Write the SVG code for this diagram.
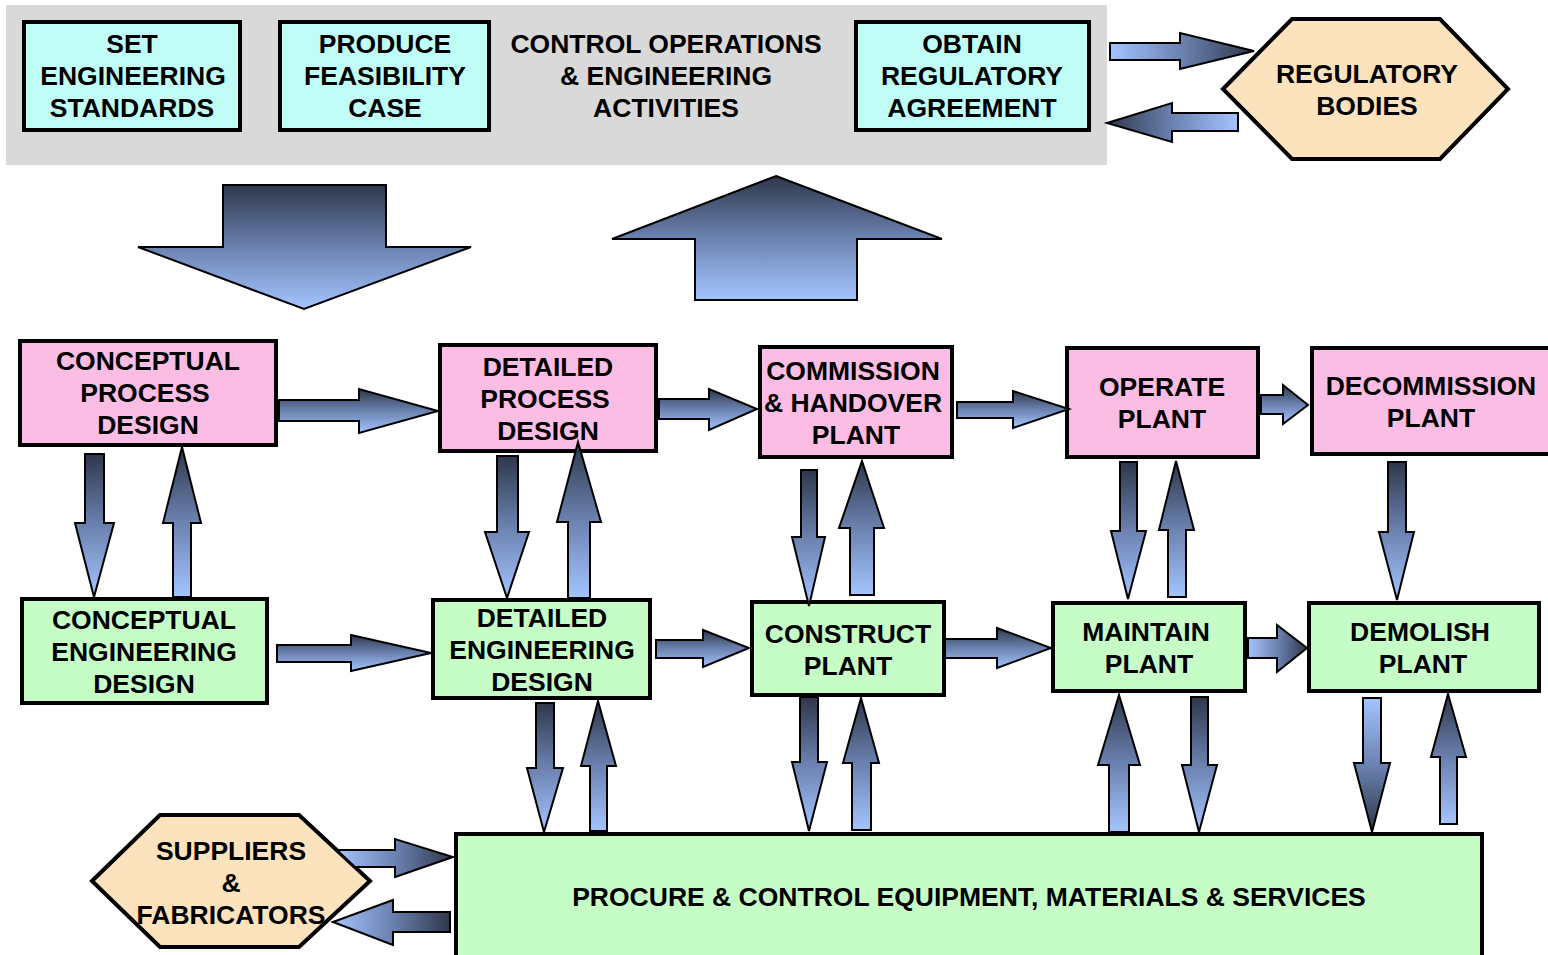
<svg xmlns="http://www.w3.org/2000/svg" width="1548" height="955" viewBox="0 0 1548 955">
<style>
.t{font-family:"Liberation Sans",Arial,sans-serif;font-weight:bold;font-size:26.5px;text-anchor:middle;fill:#000}
.box{stroke:#000;stroke-width:4}
.cy{fill:#bffdf6}.pk{fill:#fbbde3}.gr{fill:#c6fcc6}.pe{fill:#fce3bd}
.a{stroke:#000;stroke-width:2;stroke-linejoin:miter}
.v{fill:url(#gV)}.vr{fill:url(#gVr)}.h{fill:url(#gH)}.hr{fill:url(#gHr)}
</style>
<defs>
<linearGradient id="gV" x1="0" y1="0" x2="0" y2="1"><stop offset="0" stop-color="#2e374b"/><stop offset="0.5" stop-color="#6b82b0"/><stop offset="1" stop-color="#a4c4ff"/></linearGradient>
<linearGradient id="gVr" x1="0" y1="0" x2="0" y2="1"><stop offset="0" stop-color="#a4c4ff"/><stop offset="0.5" stop-color="#6b82b0"/><stop offset="1" stop-color="#2e374b"/></linearGradient>
<linearGradient id="gH" x1="0" y1="0" x2="1" y2="0"><stop offset="0" stop-color="#a4c4ff"/><stop offset="0.5" stop-color="#6b82b0"/><stop offset="1" stop-color="#2e374b"/></linearGradient>
<linearGradient id="gHr" x1="0" y1="0" x2="1" y2="0"><stop offset="0" stop-color="#2e374b"/><stop offset="0.5" stop-color="#6b82b0"/><stop offset="1" stop-color="#a4c4ff"/></linearGradient>
</defs>
<rect width="1548" height="955" fill="#fff"/>
<rect id="top-band" x="6" y="5" width="1101" height="160" fill="#d9d9d9"/>

<g id="set-standards"><rect class="box cy" x="24" y="22" width="216" height="108"/>
<text class="t" x="132" y="52.5">SET</text><text class="t" x="133" y="84.5">ENGINEERING</text><text class="t" x="132" y="116.5">STANDARDS</text></g>
<g id="feasibility"><rect class="box cy" x="280" y="22" width="209" height="108"/>
<text class="t" x="385" y="52.5">PRODUCE</text><text class="t" x="385" y="84.5">FEASIBILITY</text><text class="t" x="385" y="116.5">CASE</text></g>
<g id="control-ops"><text class="t" x="666" y="52.5">CONTROL OPERATIONS</text><text class="t" x="666" y="84.5">&amp; ENGINEERING</text><text class="t" x="666" y="116.5">ACTIVITIES</text></g>
<g id="regulatory-agreement"><rect class="box cy" x="856" y="22" width="233" height="108"/>
<text class="t" x="972" y="52.5">OBTAIN</text><text class="t" x="972" y="84.5">REGULATORY</text><text class="t" x="972" y="116.5">AGREEMENT</text></g>
<g id="regulatory-bodies"><polygon class="box pe" points="1223,89 1292,19 1440,19 1508,89 1440,159 1292,159"/>
<text class="t" x="1367" y="82.5">REGULATORY</text><text class="t" x="1367" y="114.5">BODIES</text></g>

<g id="conceptual-process"><rect class="box pk" x="20" y="341" width="256" height="104"/>
<text class="t" x="148" y="369.5">CONCEPTUAL</text><text class="t" x="145" y="401.5">PROCESS</text><text class="t" x="148" y="433.5">DESIGN</text></g>
<g id="detailed-process"><rect class="box pk" x="440" y="345" width="216" height="106"/>
<text class="t" x="548" y="375.5">DETAILED</text><text class="t" x="545" y="407.5">PROCESS</text><text class="t" x="548" y="439.5">DESIGN</text></g>
<g id="commission"><rect class="box pk" x="760" y="347" width="192" height="110"/>
<text class="t" x="853" y="379.5">COMMISSION</text><text class="t" x="853" y="411.5">&amp; HANDOVER</text><text class="t" x="856" y="443.5">PLANT</text></g>
<g id="operate"><rect class="box pk" x="1067" y="348" width="191" height="109"/>
<text class="t" x="1162" y="395.5">OPERATE</text><text class="t" x="1162" y="427.5">PLANT</text></g>
<g id="decommission"><rect class="box pk" x="1312" y="348" width="240" height="106"/>
<text class="t" x="1431" y="394.5">DECOMMISSION</text><text class="t" x="1431" y="426.5">PLANT</text></g>

<g id="conceptual-engineering"><rect class="box gr" x="22" y="599" width="245" height="104"/>
<text class="t" x="144" y="628.5">CONCEPTUAL</text><text class="t" x="144" y="660.5">ENGINEERING</text><text class="t" x="144" y="692.5">DESIGN</text></g>
<g id="detailed-engineering"><rect class="box gr" x="433" y="600" width="217" height="98"/>
<text class="t" x="542" y="626.5">DETAILED</text><text class="t" x="542" y="658.5">ENGINEERING</text><text class="t" x="542" y="690.5">DESIGN</text></g>
<g id="construct"><rect class="box gr" x="752" y="602" width="192" height="93"/>
<text class="t" x="848" y="642.5">CONSTRUCT</text><text class="t" x="848" y="674.5">PLANT</text></g>
<g id="maintain"><rect class="box gr" x="1053" y="603" width="192" height="88"/>
<text class="t" x="1146" y="640.5">MAINTAIN</text><text class="t" x="1149" y="672.5">PLANT</text></g>
<g id="demolish"><rect class="box gr" x="1309" y="603" width="230" height="88"/>
<text class="t" x="1420" y="640.5">DEMOLISH</text><text class="t" x="1423" y="672.5">PLANT</text></g>
<g id="procure"><rect class="box gr" x="456" y="834" width="1026" height="130"/>
<text class="t" x="969" y="905.5">PROCURE &amp; CONTROL EQUIPMENT, MATERIALS &amp; SERVICES</text></g>
<g id="suppliers"><polygon class="box pe" points="92,881 160,815 299,815 370,881 299,947 160,947"/>
<text class="t" x="231" y="859.5">SUPPLIERS</text><text class="t" x="231" y="891.5">&amp;</text><text class="t" x="231" y="923.5">FABRICATORS</text></g>

<g id="connectors">
<polygon class="a v" points="223,185 386,185 386,247 471,247 304,309 138,247 223,247"/>
<polygon class="a v" points="776,176 942,239 857,239 857,300 695,300 695,239 612,239"/>
<polygon class="a h" points="1110,43 1180,43 1180,33 1254,51 1180,69 1180,60 1110,60"/>
<polygon class="a hr" points="1107,123 1172,103 1172,113 1238,113 1238,131 1172,131 1172,142"/>

<polygon class="a v" points="279,400 359,400 359,389 438,411 359,433 359,421 279,421"/>
<polygon class="a v" points="659,399 709,399 709,389 757,409 709,430 709,419 659,419"/>
<polygon class="a v" points="957,402 1013,402 1013,391 1069,409 1013,428 1013,418 957,418"/>
<polygon class="a v" points="1261,395 1283,395 1283,385 1308,405 1283,424 1283,414 1261,414"/>
<polygon class="a v" points="277,645 351,645 351,635 431,653 351,671 351,662 277,662"/>
<polygon class="a v" points="656,640 703,640 703,630 749,648 703,667 703,658 656,658"/>
<polygon class="a v" points="945,639 997,639 997,628 1051,648 997,668 997,658 945,658"/>
<polygon class="a h" points="1248,638 1277,638 1277,625 1307,648 1277,672 1277,658 1248,658"/>

<polygon class="a v" points="85,454 104,454 104,523 114,523 94,597 75,523 85,523"/>
<polygon class="a v" points="182,447 201,523 191,523 191,597 173,597 173,523 163,523"/>
<polygon class="a v" points="497,456 518,456 518,532 529,532 507,598 485,532 497,532"/>
<polygon class="a v" points="578,442 601,522 590,522 590,598 568,598 568,522 557,522"/>
<polygon class="a v" points="801,470 817,470 817,537 825,537 809,606 792,537 801,537"/>
<polygon class="a v" points="862,461 884,528 874,528 874,595 850,595 850,528 839,528"/>
<polygon class="a v" points="1120,462 1137,462 1137,531 1146,531 1128,599 1111,531 1120,531"/>
<polygon class="a v" points="1176,461 1194,530 1186,530 1186,597 1168,597 1168,530 1159,530"/>
<polygon class="a v" points="1388,462 1406,462 1406,532 1414,532 1397,600 1379,532 1388,532"/>

<polygon class="a v" points="536,703 554,703 554,768 563,768 544,832 527,768 536,768"/>
<polygon class="a v" points="598,701 616,766 607,766 607,831 590,831 590,766 581,766"/>
<polygon class="a v" points="800,697 818,697 818,762 827,762 809,831 792,762 800,762"/>
<polygon class="a v" points="861,698 879,763 871,763 871,830 852,830 852,763 843,763"/>
<polygon class="a v" points="1119,695 1140,765 1129,765 1129,832 1109,832 1109,765 1098,765"/>
<polygon class="a v" points="1191,697 1208,697 1208,765 1217,765 1199,832 1182,765 1191,765"/>
<polygon class="a vr" points="1363,698 1381,698 1381,763 1390,763 1372,832 1354,763 1363,763"/>
<polygon class="a v" points="1448,694 1466,757 1457,757 1457,824 1440,824 1440,757 1431,757"/>

<polygon class="a h" points="337,850 395,850 395,839 453,857 395,877 395,867 355,867"/>
<polygon class="a h" points="333,922 393,900 393,912 450,912 450,932 393,932 393,945"/>
</g>
</svg>
